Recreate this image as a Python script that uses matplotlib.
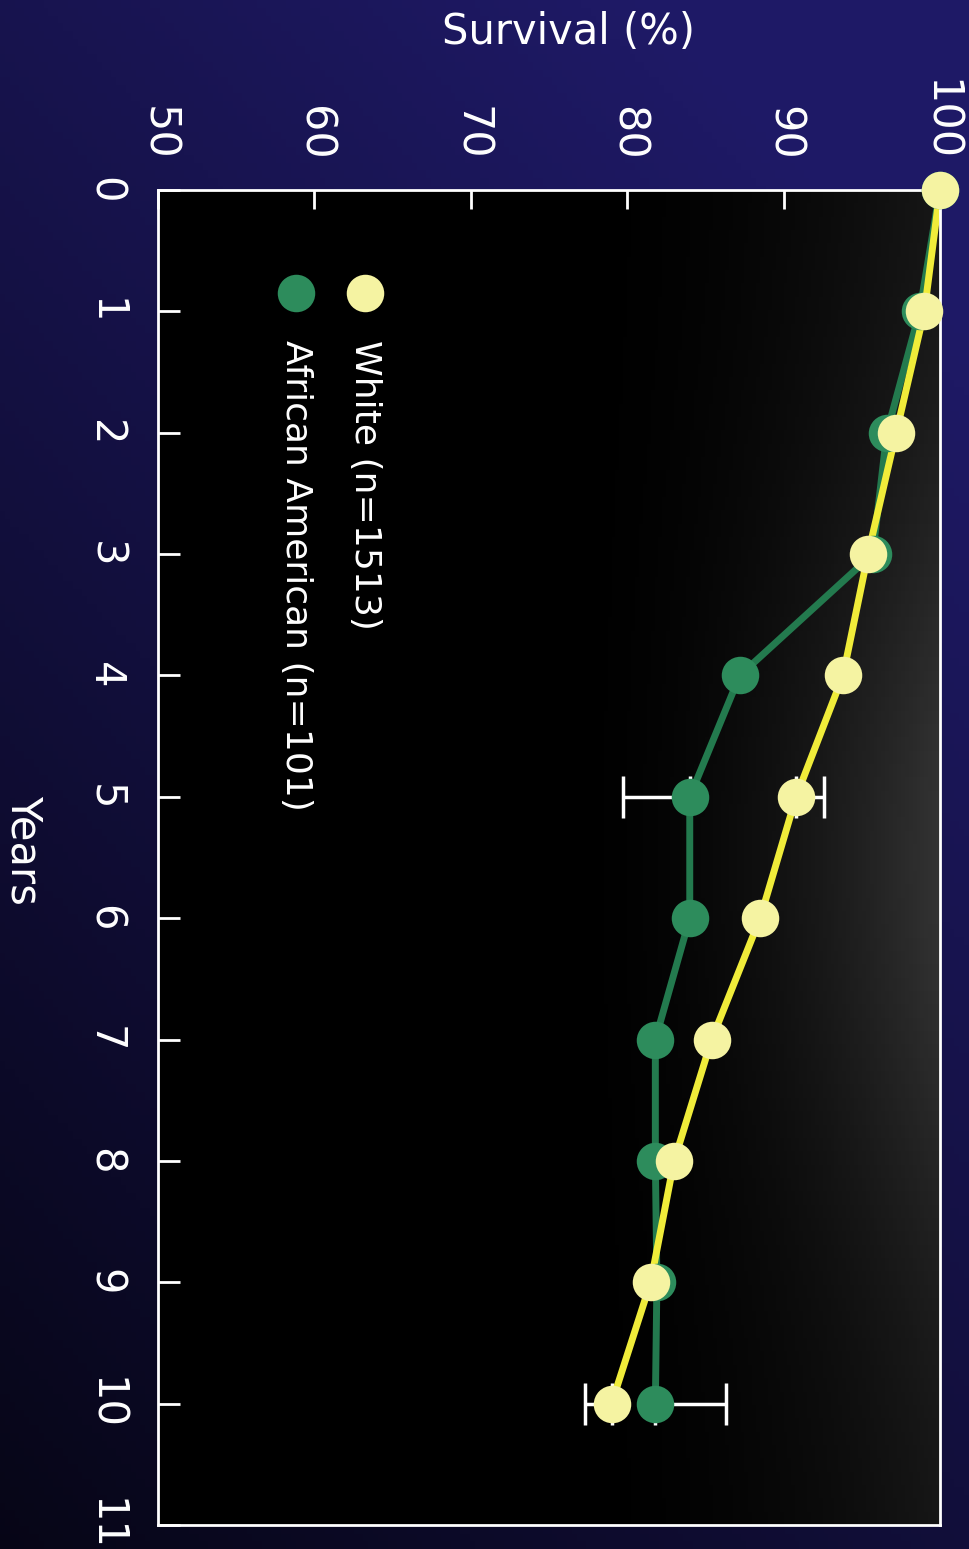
import numpy as np
import matplotlib.pyplot as plt

years = [0, 1, 2, 3, 4, 5, 6, 7, 8, 9, 10]
white_surv = [100.0, 99.0, 97.2, 95.4, 93.8, 90.8, 88.5, 85.4, 83.0, 81.5, 79.0]
aa_surv = [100.0, 98.7, 96.6, 95.7, 87.2, 84.0, 84.0, 81.8, 81.8, 81.9, 81.8]

err_years = [5, 10]
white_err_at = [90.8, 79.0]
white_err_lo = [0.0, 1.7]
white_err_hi = [1.8, 0.0]
aa_err_at = [84.0, 81.8]
aa_err_lo = [4.3, 0.0]
aa_err_hi = [0.0, 4.5]

surv_ticks = [50, 60, 70, 80, 90, 100]
year_ticks = list(range(0, 12))
labels = ['White (n=1513)', 'African American (n=101)']

yellow_line = '#f0ec3a'
yellow_dot = '#f5f3a2'
green_line = '#237a4e'
green_dot = '#2d8c5c'

fig = plt.figure(figsize=(9.69, 15.49), dpi=100)

# background gradient (navy at top, almost black at lower left)
bg = fig.add_axes([0, 0, 1, 1], zorder=-10)
gy, gx = np.mgrid[0:1:200j, 0:1:200j]
f = np.clip(0.22 + 0.55 * gy + 0.35 * gx, 0, 1)
img = np.dstack([0.12 * f, 0.10 * f, 0.40 * f])
bg.imshow(img, extent=[0, 1, 0, 1], aspect='auto', origin='lower')
bg.axis('off')

ax = fig.add_axes([158 / 969, 1 - 1525 / 1549, 782 / 969, 1335 / 1549])
ax.set_facecolor('black')
# faint grey glow towards the right of the plot area
yy, xx = np.mgrid[0:1:100j, 0:1:200j]
glow = np.clip((xx - 0.5) / 0.5, 0, 1) ** 2 * (0.08 + 0.12 * np.exp(-((yy - 0.5) / 0.3) ** 2))
gimg = np.dstack([glow, glow, glow])
ax.imshow(gimg, extent=[0, 1, 0, 1], transform=ax.transAxes, aspect='auto', zorder=0,
          origin='lower')

ax.errorbar(aa_err_at, err_years, xerr=[aa_err_lo, aa_err_hi], fmt='none',
            ecolor='white', elinewidth=2.5, capsize=15, capthick=2.5, zorder=2)
ax.errorbar(white_err_at, err_years, xerr=[white_err_lo, white_err_hi], fmt='none',
            ecolor='white', elinewidth=2.5, capsize=15, capthick=2.5, zorder=2)

ax.plot(aa_surv, years, color=green_line, lw=5, zorder=3)
ax.plot(aa_surv, years, 'o', color=green_dot, ms=27, mec='none', zorder=8, clip_on=False)
ax.plot(white_surv, years, color=yellow_line, lw=5, zorder=5)
ax.plot(white_surv, years, 'o', color=yellow_dot, ms=27, mec='none', zorder=9, clip_on=False)

ax.set_xlim(50, 100)
ax.set_ylim(11, 0)

ax.xaxis.tick_top()
ax.set_xticks(surv_ticks)
ax.set_xticklabels([str(t) for t in surv_ticks], rotation=-90, fontsize=31, color='white')
ax.set_yticks(year_ticks)
ax.set_yticklabels([str(t) for t in year_ticks], rotation=-90, fontsize=30, color='white',
                   va='center')
ax.tick_params(axis='x', direction='in', length=14, width=2, color='white', pad=21)
ax.tick_params(axis='y', direction='in', length=16, width=2, color='white', pad=23)
for s in ax.spines.values():
    s.set_color('white')
    s.set_linewidth(2)
    s.set_zorder(7)

# legend drawn by hand, rotated like the rest of the chart
ax.plot([0.265], [0.923], 'o', color=yellow_dot, ms=27, mec='none', transform=ax.transAxes,
        clip_on=False, zorder=6)
ax.plot([0.176], [0.923], 'o', color=green_dot, ms=27, mec='none', transform=ax.transAxes,
        clip_on=False, zorder=6)
ax.text(0.265, 0.888, labels[0], rotation=-90, ha='center', va='top', fontsize=26,
        color='white', transform=ax.transAxes)
ax.text(0.176, 0.888, labels[1], rotation=-90, ha='center', va='top', fontsize=26,
        color='white', transform=ax.transAxes)

fig.text(568 / 969, 1 - 32 / 1549, 'Survival (%)', ha='center', va='center', fontsize=30,
         color='white')
fig.text(24 / 969, 1 - 850 / 1549, 'Years', rotation=-90, ha='center', va='center',
         fontsize=30, color='white')

fig.savefig('out.png', dpi=100, facecolor=fig.get_facecolor())
